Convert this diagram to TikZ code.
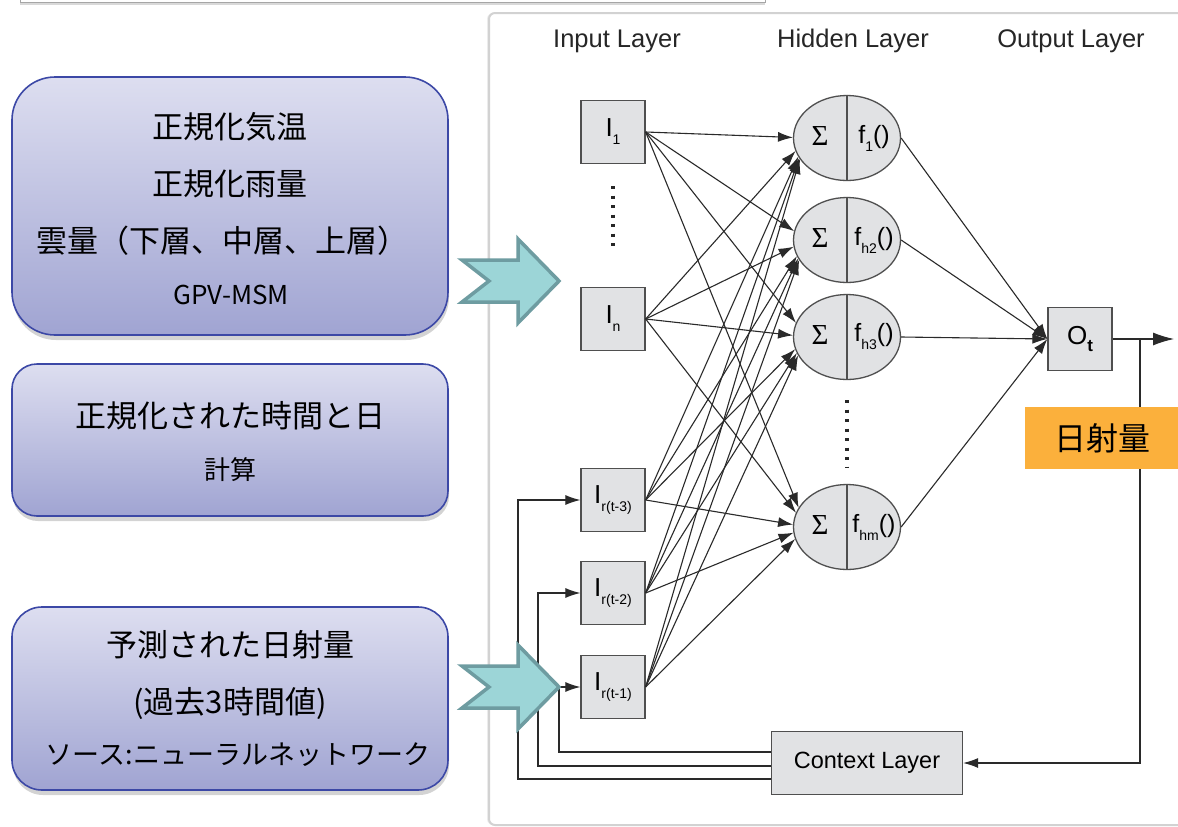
\documentclass[tikz,border=0pt]{standalone}
\usepackage{fontspec}
\setmainfont{Liberation Sans}
\newfontfamily\jp{Noto Sans CJK JP}
\newfontfamily\serifgr{Liberation Serif}
\usetikzlibrary{arrows.meta,shapes.geometric,shadows,calc}

\definecolor{nodefill}{HTML}{E1E2E4}
\definecolor{nodeline}{HTML}{4F4F4F}
\definecolor{edgecol}{HTML}{2A2A2A}
\definecolor{boxtop}{HTML}{DDDEF0}
\definecolor{boxbot}{HTML}{A0A4D2}
\definecolor{boxline}{HTML}{3C48A6}
\definecolor{chevfill}{HTML}{9CD5D7}
\definecolor{chevline}{HTML}{6E9CA1}
\definecolor{tagfill}{HTML}{FBB03C}
\definecolor{panelline}{HTML}{D2D2D2}

% subscript set low and small, as in the network sketch
\newcommand{\lowsub}[1]{\raisebox{-8pt}{\fontsize{14}{14}\selectfont #1}}

\tikzset{
  inbox/.style={draw=nodeline, fill=nodefill, line width=1.3, minimum width=64,
    minimum height=63, inner sep=0, font=\fontsize{26}{26}\selectfont},
  hid/.style={ellipse, draw=nodeline, fill=nodefill, line width=1.3,
    minimum width=107, minimum height=85, inner sep=0},
  conn/.style={draw=edgecol, line width=1.1, -{Latex[length=15pt,width=10pt]}},
  bigtip/.style={-{Latex[length=21pt,width=13pt]}},
  header/.style={font=\fontsize{25.5}{26}\selectfont, text=black!85},
  srcbox/.style={draw=boxline, line width=1.6, top color=boxtop, bottom color=boxbot,
    drop shadow={opacity=0.35, shadow xshift=1pt, shadow yshift=-5pt}},
  bigjp/.style={font=\jp\fontsize{31}{31}\selectfont},
  midjp/.style={font=\jp\fontsize{27}{27}\selectfont},
  smalljp/.style={font=\jp\fontsize{26}{26}\selectfont},
  chevron/.style={fill=chevfill, draw=chevline, line width=3.5, line join=miter},
  vdots/.style={line width=3.2, dash pattern=on 3 off 6.5, draw=black!85},
}

\begin{document}
\begin{tikzpicture}[x=1pt,y=-1pt]
\useasboundingbox (0,0) rectangle (1178,827);

% frame of the slide element cut off at the top
\path[fill=white, draw=black!35, line width=1, drop shadow={opacity=0.3, shadow xshift=0pt, shadow yshift=-3pt}]
  (20,-40) rectangle (765,2);

% white panel holding the network
\path[fill=white, draw=panelline, line width=2, rounded corners=6,
  drop shadow={opacity=0.15, shadow xshift=-2pt, shadow yshift=0pt}]
  (489,13) rectangle (1200,825);

% layer headers
\node[header] (hin)  at (617,41)  {Input Layer};
\node[header] (hhid) at (853,41)  {Hidden Layer};
\node[header] (hout) at (1071,41) {Output Layer};

% input layer
\node[inbox] (i1) at (613,132) {I\lowsub{1}};
\node[inbox] (in) at (613,319) {I\lowsub{n}};
\node[inbox] (r3) at (613,500) {I\lowsub{r(t-3)}};
\node[inbox] (r2) at (613,593) {I\lowsub{r(t-2)}};
\node[inbox] (r1) at (613,687) {I\lowsub{r(t-1)}};
\coordinate (d1a) at (613,186);
\coordinate (d1b) at (613,250);
\draw[vdots] (d1a) -- (d1b);

% hidden layer
\foreach \n/\y/\s in {h1/138/1, h2/240/h2, h3/337/h3, hm/527/hm}{
  \node[hid] (\n) at (847,\y) {};
  \draw[draw=nodeline, line width=1.3] (\n.north) -- (\n.south);
  \node[font=\serifgr\fontsize{29}{29}\selectfont, inner sep=0] (\n s) at ($(\n.center)+(-27,-2)$) {Σ};
  \node[font=\fontsize{25}{25}\selectfont, inner sep=0] (\n f) at ($(\n.center)+(27,0)$) {f\lowsub{\s}()};
}
\coordinate (d2a) at (847,400);
\coordinate (d2b) at (847,468);
\draw[vdots] (d2a) -- (d2b);

% output layer and context layer
\node[inbox] (ot) at (1080,339) {O\raisebox{-7pt}{\fontsize{17}{17}\selectfont\bfseries t}};
\node[draw=nodeline, fill=nodefill, line width=1.3, minimum width=191, minimum height=63,
  inner sep=0, font=\fontsize{23.5}{24}\selectfont] (ctx) at (867,763) {Context Layer};

% fully connected input -> hidden; heads land on the left side of each neuron
\foreach \i in {i1,in,r3,r2,r1}
  \foreach \h in {h1,h2,h3,hm}{
    \path let \p1=($(\i.east)-(\h.center)$),
              \n1={scalar(atan2(\y1,\x1))},
              \n2={scalar(ifthenelse(\n1<0,\n1+360,\n1))},
              \n3={scalar(180+(\n2-180)*0.42)},
              \n4={scalar(54*cos(\n3))},
              \n5={scalar(43*sin(\n3))} in
      coordinate (e\i\h) at ($(\h.center)+(\n4 pt,\n5 pt)$);
    \draw[conn] (\i.east) -- (e\i\h);
  }

% hidden -> output
\foreach \h in {h1,h2,h3,hm}
  \draw[conn] (\h.east) -- (ot.west);

% output and recurrent feedback
\coordinate (outend) at (1174,339);
\coordinate (split) at (1140,339);
\draw[conn, bigtip] (ot.east) -- (outend);
\draw[conn] (split) |- (ctx.east);
\coordinate (fb1) at (559,752);
\coordinate (fb2) at (538,766);
\coordinate (fb3) at (518,779);
\draw[conn] (ctx.west |- fb1) -- (fb1) |- (r1.west);
\draw[conn] (ctx.west |- fb2) -- (fb2) |- (r2.west);
\draw[conn] (ctx.west |- fb3) -- (fb3) |- (r3.west);

% output tag
\node[fill=tagfill, minimum width=154, minimum height=62, inner sep=0,
  font=\jp\fontsize{32}{32}\selectfont] (tag) at (1102,438) {日射量};

% source boxes on the left
\path[srcbox, rounded corners=43] (12,77) rectangle (448,335);
\node[bigjp] (t1a) at (230,127) {正規化気温};
\node[bigjp] (t1b) at (230,184) {正規化雨量};
\node[bigjp] (t1c) at (222,241) {雲量（下層、中層、上層）};
\node[smalljp] (t1d) at (231,295) {GPV-MSM};

\path[srcbox, rounded corners=25] (12,364) rectangle (448,516);
\node[bigjp] (t2a) at (230,416) {正規化された時間と日};
\node[smalljp] (t2b) at (230,470) {計算};

\path[srcbox, rounded corners=30] (12,607) rectangle (448,790);
\node[bigjp] (t3a) at (230,645) {予測された日射量};
\node[bigjp] (t3b) at (230,703) {(過去3時間値)};
\node[midjp] (t3c) at (238,755) {ソース:ニューラルネットワーク};

% chevron arrows feeding the network
\foreach \dy in {0,406}{
  \draw[chevron, yshift=-\dy pt]
    (462,260) -- (518,260) -- (518,239) -- (559,281) -- (518,323) -- (518,302)
    -- (462,302) -- (489,281) -- cycle;
}
\end{tikzpicture}
\end{document}
